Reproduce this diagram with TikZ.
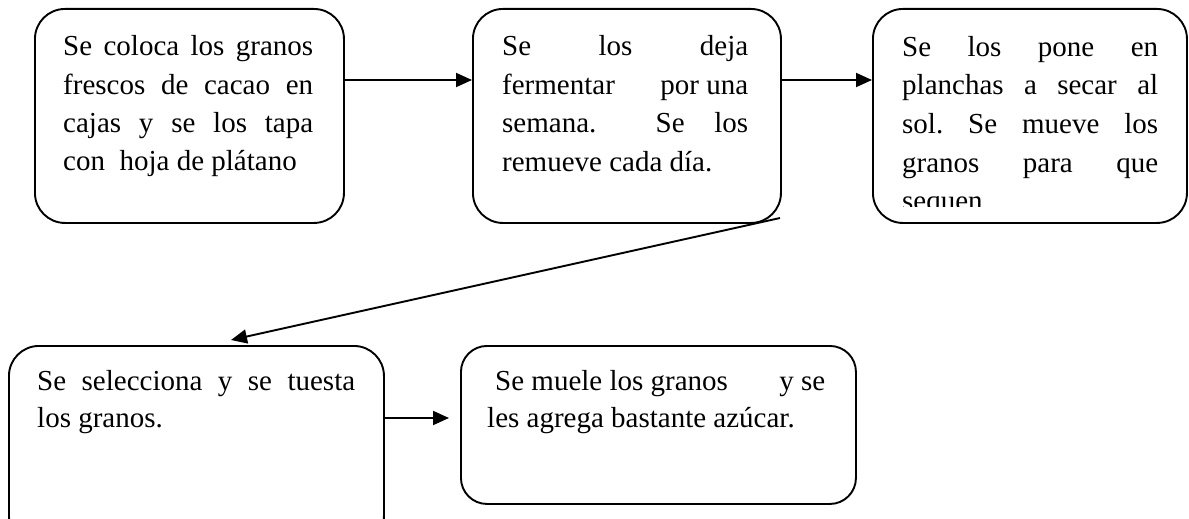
\documentclass[tikz,border=0pt]{standalone}
\usepackage{fontspec}
\setmainfont{Liberation Serif}
\usetikzlibrary{arrows.meta}
\frenchspacing
\begin{document}
\begin{tikzpicture}[x=1pt,y=-1pt,
  box/.style={draw,line width=1.9pt,rounded corners=30pt,anchor=north west,inner sep=0pt},
  txt/.style={anchor=base west,inner sep=0pt,font=\fontsize{29}{35}\selectfont},
  arr/.style={line width=1.9pt,-{Triangle[length=16pt,width=14pt]}}]
\useasboundingbox (0,0) rectangle (1189,519);
\clip (0,0) rectangle (1189,519);
% boxes
\node[box,minimum width=309pt,minimum height=214pt] (b1) at (34,8) {};
\node[box,minimum width=308pt,minimum height=214pt] (b2) at (472,8) {};
\node[box,minimum width=314pt,minimum height=214pt] (b3) at (872,8) {};
\node[box,minimum width=375pt,minimum height=200pt] (b4) at (8,345) {};
\node[box,minimum width=395pt,minimum height=158pt,rounded corners=26pt] (b5) at (460,345) {};
% box 1 text
\node[txt] (t1a) at (63,56) {\makebox[250pt][s]{Se coloca los granos}};
\node[txt] (t1b) at (63,94) {\makebox[250pt][s]{frescos de cacao en}};
\node[txt] (t1c) at (63,132) {\makebox[250pt][s]{cajas y se los tapa}};
\node[txt] (t1d) at (63,170) {con\ \ hoja de plátano};
% box 2 text
\node[txt] (t2a) at (502,56) {\makebox[246pt][s]{Se los deja}};
\node[txt] (t2b) at (502,94) {\makebox[246pt][s]{fermentar\hfill por una}};
\node[txt] (t2c) at (502,132) {\makebox[246pt][s]{semana.\ \ Se los}};
\node[txt] (t2d) at (502,171) {remueve cada día.};
% box 3 text (clipped)
\begin{scope}
\clip (872,8) rectangle (1186,206);
\node[txt] (t3a) at (902,57) {\makebox[256pt][s]{Se los pone en}};
\node[txt] (t3b) at (902,95) {\makebox[256pt][s]{planchas a secar al}};
\node[txt] (t3c) at (902,133) {\makebox[256pt][s]{sol. Se mueve los}};
\node[txt] (t3d) at (902,172) {\makebox[256pt][s]{granos para que}};
\node[txt] (t3e) at (902,210) {sequen};
\end{scope}
% box 4 text
\node[txt] (t4a) at (37,390) {\makebox[318pt][s]{Se selecciona y se tuesta}};
\node[txt] (t4b) at (37,427) {los granos.};
% box 5 text
\node[txt] (t5a) at (495,390) {\makebox[330pt][s]{Se muele los granos\hfill y se}};
\node[txt] (t5b) at (487,427) {les agrega bastante azúcar.};
% connectors
\coordinate (y80) at (0,80);
\coordinate (y418) at (0,418);
\coordinate (d1) at (780,218);
\coordinate (d2) at (231,340);
\coordinate (e5) at (449,418);
\draw[arr] (b1.east |- y80) -- (b2.west |- y80);
\draw[arr] (b2.east |- y80) -- (b3.west |- y80);
\draw[arr] (d1) -- (d2);
\draw[arr] (b4.east |- y418) -- (e5);
\end{tikzpicture}
\end{document}
